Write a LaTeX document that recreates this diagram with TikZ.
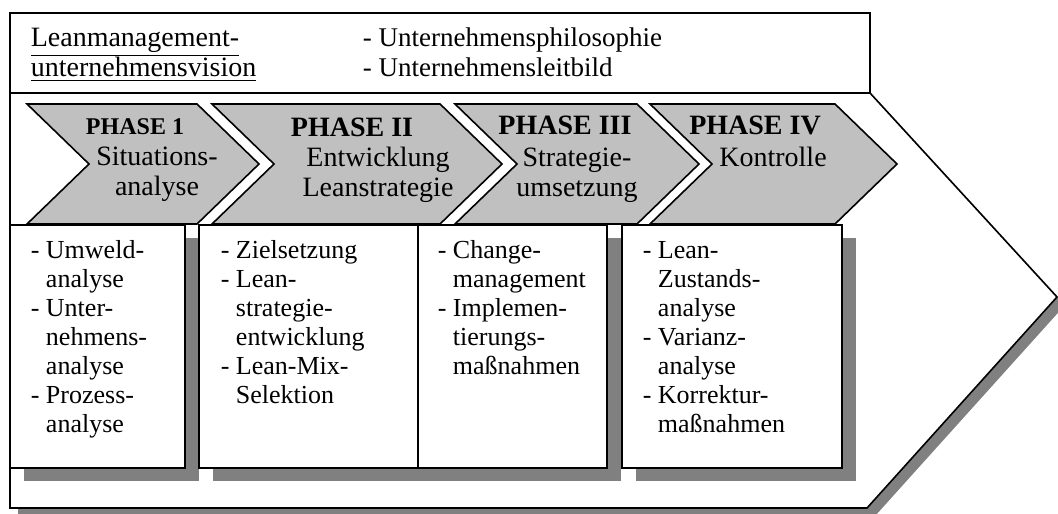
\documentclass[tikz,border=0pt]{standalone}
\usepackage{fontspec}
\setmainfont{Liberation Serif}
\definecolor{phasegray}{RGB}{192,192,192}
\definecolor{shadowgray}{RGB}{128,128,128}
\newcommand\hind{\phantom{- }}
\begin{document}
\begin{tikzpicture}[x=0.5pt,y=-0.5pt,line width=0.8pt,
  every node/.style={inner sep=0pt},
  phase/.style={draw,fill=phasegray},
  title/.style={anchor=base,font=\fontsize{14}{15}\selectfont\bfseries},
  sub/.style={anchor=base,align=center,font=\fontsize{14}{15}\selectfont},
  list/.style={anchor=base west,align=left,font=\fontsize{13}{14.5}\selectfont}]
\useasboundingbox (0,0) rectangle (1058,513);
% big arrow
\fill[shadowgray] (18,101) -- (878,101) -- (1065,305) -- (875,516) -- (18,516) -- cycle;
\draw[fill=white] (10,13) -- (870,13) -- (870,93) -- (1057,297) -- (867,508) -- (10,508) -- cycle;
\draw (10,93) -- (870,93);
% base anchor sits on the last line
\node[list,font=\fontsize{14}{15}\selectfont] (vision) at (30,77) {\underline{Leanmanagement-}\\\underline{unternehmensvision}};
\node[list,font=\fontsize{13.5}{15}\selectfont] (leitbild) at (362,77) {- Unternehmensphilosophie\\- Unternehmensleitbild};
% phases
\foreach \l/\r in {27/197,212/440,455/637,650/835}
  \draw[phase] (\l,104) -- (\r,104) -- (\r+62,164) -- (\r,224) -- (\l,224) -- (\l+62,164) -- cycle;
\node[title,font=\fontsize{12}{14}\selectfont\bfseries] (p1) at (135,135) {PHASE 1};
\node[sub] (s1) at (157,196) {Situations-\\analyse};
\node[title] (p2) at (352,137) {PHASE II};
\node[sub] (s2) at (378,197) {Entwicklung\\Leanstrategie};
\node[title] (p3) at (565,135) {PHASE III};
\node[sub] (s3) at (577,197) {Strategie-\\umsetzung};
\node[title] (p4) at (755,135) {PHASE IV};
\node[sub] (s4) at (773,167) {Kontrolle};
% boxes
\fill[shadowgray] (24,238) rectangle (199,481);
\fill[shadowgray] (213,238) rectangle (621,481);
\fill[shadowgray] (636,238) rectangle (856,481);
\draw[fill=white] (10,225) rectangle (185,468);
\draw[fill=white] (199,225) rectangle (607,468);
\draw (418,225) -- (418,468);
\draw[fill=white] (622,225) rectangle (842,468);
\node[list] (l1) at (30,432) {- Umweld-\\\hind analyse\\- Unter-\\\hind nehmens-\\\hind analyse\\- Prozess-\\\hind analyse};
\node[list] (l2) at (220,403) {- Zielsetzung\\- Lean-\\\hind strategie-\\\hind entwicklung\\- Lean-Mix-\\\hind Selektion};
\node[list] (l3) at (437,374) {- Change-\\\hind management\\- Implemen-\\\hind tierungs-\\\hind maßnahmen};
\node[list] (l4) at (642,432) {- Lean-\\\hind Zustands-\\\hind analyse\\- Varianz-\\\hind analyse\\- Korrektur-\\\hind maßnahmen};
\end{tikzpicture}
\end{document}
